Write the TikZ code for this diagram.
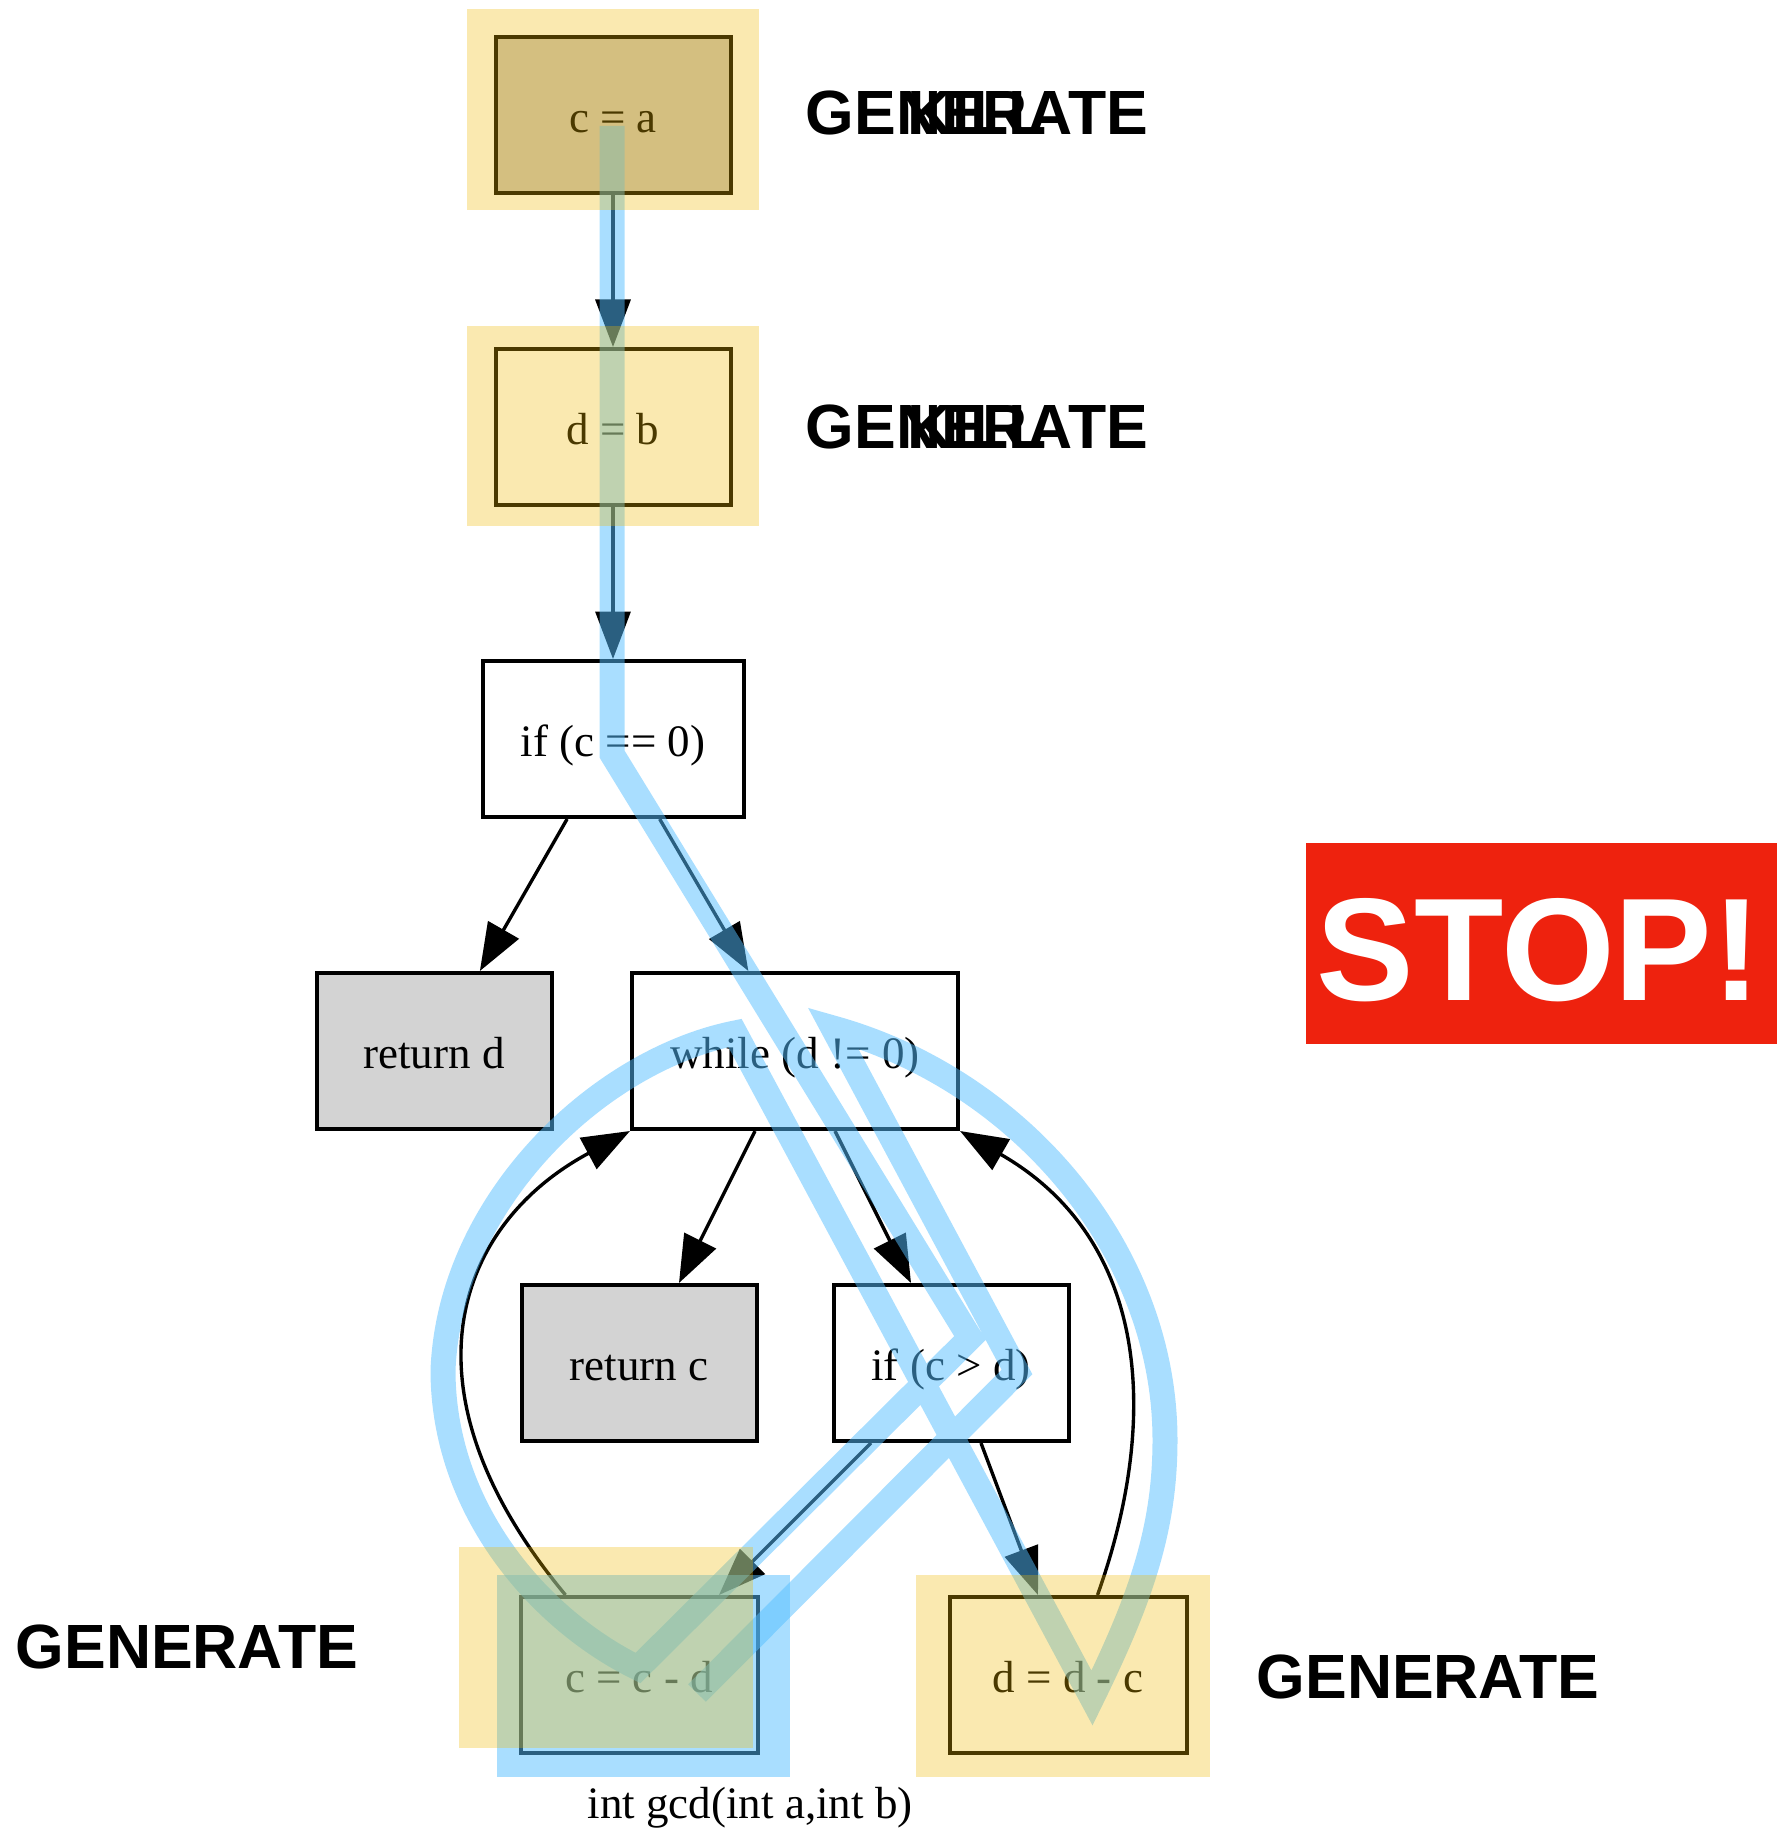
\documentclass[tikz,border=0pt]{standalone}
\usepackage{fontspec}
\setmainfont{Liberation Serif}
\newfontfamily\hvfont{Liberation Sans}
\usetikzlibrary{arrows.meta,calc}

\definecolor{hlyellow}{RGB}{240,185,0}
\definecolor{hlblue}{RGB}{84,190,255}
\definecolor{stopred}{RGB}{238,34,14}
\definecolor{retgray}{RGB}{211,211,211}
\definecolor{startfill}{RGB}{200,194,186}

\begin{document}
\begin{tikzpicture}[x=0.4pt,y=-0.4pt,
  stmt/.style={draw=black, line width=1.6pt, minimum width=94pt, minimum height=62.4pt,
    inner sep=0pt, font=\fontsize{18}{20}\selectfont, text height=13.6pt, text depth=0pt},
  flow/.style={line width=1.35pt, -{Triangle[length=19pt,width=14pt]}},
  trace/.style={draw=hlblue, draw opacity=0.5, line width=10pt, line join=miter, miter limit=10},
  bluebox/.style={fill=hlblue, fill opacity=0.5},
  yellowbox/.style={fill=hlyellow, fill opacity=0.31},
  tag/.style={font=\hvfont\bfseries\fontsize{25}{27}\selectfont, inner sep=0pt},
  caption/.style={font=\fontsize{18}{20}\selectfont, inner sep=0pt, anchor=base}]

\useasboundingbox (0,0) rectangle (1777,1832);

% statements of gcd
\node[stmt, fill=startfill] (ca) at (613,115) {c = a};
\node[stmt] (db) at (613,427) {d = b};
\node[stmt, minimum width=104.4pt] (ifz) at (613,739) {if (c == 0)};
\node[stmt, fill=retgray] (rd) at (434,1051) {return d};
\node[stmt, minimum width=130.4pt] (wh) at (795,1051) {while (d != 0)};
\node[stmt, fill=retgray] (rc) at (639,1363) {return c};
\node[stmt] (ifg) at (951,1363) {if (c > d)};
\node[stmt, minimum width=94.8pt] (ccd) at (639,1675) {c = c - d};
\node[stmt, minimum width=94.8pt] (ddc) at (1068,1675) {d = d - c};

\node[caption] (title) at (750,1818) {int gcd(int a,int b)};

% control flow
\draw[flow] (ca) -- (db);
\draw[flow] (db) -- (ifz);
\draw[flow] (ifz) -- (rd);
\draw[flow] (ifz) -- (wh);
\draw[flow] (wh) -- (rc);
\draw[flow] (wh) -- (ifg);
\draw[flow] (ifg) -- (ccd);
\draw[flow] (ifg) -- (ddc);
\draw[flow] ($(ccd.north west)+(47,0)$) .. controls (395,1390) and (455,1225) .. (wh.south west);
\draw[flow] ($(ddc.north west)+(150,0)$) .. controls (1160,1420) and (1150,1240) .. (wh.south east);

% execution trace
\coordinate (t0) at (612,126);
\coordinate (t1) at (612,754);
\coordinate (t2) at (970,1338);
\coordinate (t3) at (638,1668);
\coordinate (t4) at (735,1033);
\coordinate (t5) at (1092,1698);
\coordinate (t6) at (833,1028);
\coordinate (t7) at (1017,1372);
\coordinate (t8) at (697,1693);
\draw[trace] (t0) -- (t1) -- (t2) -- (t3)
  .. controls (540,1620) and (443,1510) .. (443,1370)
  .. controls (450,1200) and (600,1060) .. (t4) -- (t5)
  .. controls (1140,1600) and (1165,1530) .. (1165,1440)
  .. controls (1165,1250) and (1020,1080) .. (t6) -- (t7) -- (t8);
\fill[bluebox] (497,1575) rectangle (790,1777);

% generated definitions
\fill[yellowbox] (467,9) rectangle (759,210);
\fill[yellowbox] (467,326) rectangle (759,526);
\fill[yellowbox] (459,1547) rectangle (753,1748);
\fill[yellowbox] (916,1575) rectangle (1210,1777);

\node[tag] (gen1) at (977,113) {GENERATE};
\node[tag] (kill1) at (977,113) {KILL};
\node[tag] (gen2) at (977,427) {GENERATE};
\node[tag] (kill2) at (977,427) {KILL};
\node[tag] (gen3) at (187,1647) {GENERATE};
\node[tag] (gen4) at (1428,1677) {GENERATE};

% stop sign
\fill[stopred] (1306,843) rectangle (1777,1044);
\node[font=\hvfont\bfseries\fontsize{58.5}{62}\selectfont, text=white, inner sep=0pt] (stop) at (1539,950) {STOP!};
\end{tikzpicture}
\end{document}
